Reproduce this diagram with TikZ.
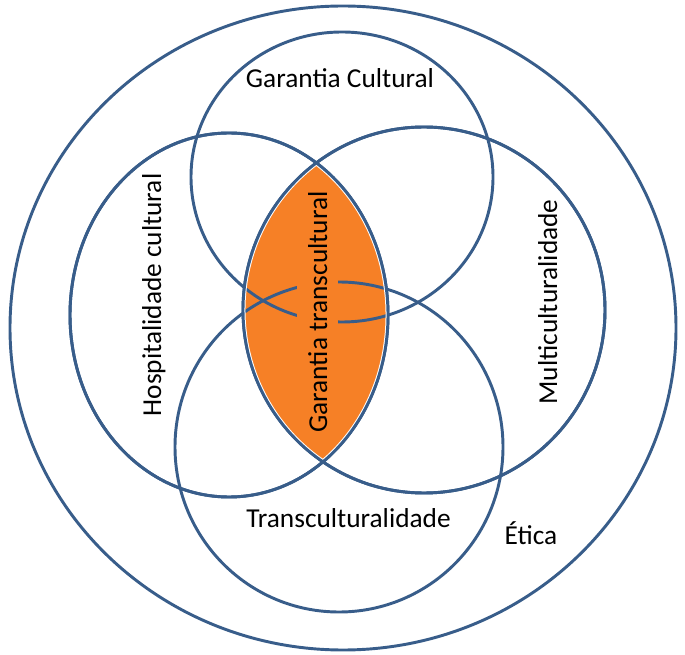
\documentclass[tikz,border=0pt]{standalone}
\usepackage{fontspec}
\setmainfont{Carlito}
\usepackage{tikz}
\definecolor{ringblue}{RGB}{56,93,138}
\definecolor{lensorange}{RGB}{246,128,38}

\begin{document}
\begin{tikzpicture}[x=0.75pt, y=-0.75pt]
    \tikzstyle{ring} = [draw=ringblue, line width=2.2pt]
    \tikzstyle{venntext} = [font=\fontsize{20.5}{24}\selectfont, inner sep=0pt,
	anchor=base]

	\useasboundingbox (0,0) rectangle (685,655);

	\coordinate (Outer) at (343,328);
	\coordinate (Top) at (342,177);
	\coordinate (Bottom) at (339,447);
	\coordinate (Left) at (229,315);
	\coordinate (Right) at (424,310);

	\draw[ring] (Outer) ellipse [x radius=333, y radius=322];
	\draw[ring] (Top) ellipse [x radius=151, y radius=145];
	\draw[ring] (Bottom) ellipse [x radius=164, y radius=165];
	\draw[ring] (Left) ellipse [x radius=159, y radius=182];
	\draw[ring] (Right) ellipse [x radius=181, y radius=183];

	\begin{scope}
		\clip (Left) ellipse [x radius=159, y radius=182];
		\clip (Right) ellipse [x radius=181, y radius=183];
		\fill[lensorange] (0,0) rectangle (685,655);
		\draw[ring] (Top) ellipse [x radius=151, y radius=145];
		\draw[ring] (Bottom) ellipse [x radius=164, y radius=165];
		\node[venntext, rotate=90, fill=lensorange, inner ysep=8pt]
			(GT) at (327,312) {Garantia transcultural};
		\draw[white, line width=3.7pt] (Left) ellipse [x radius=159, y radius=182];
		\draw[white, line width=3.7pt] (Right) ellipse [x radius=181, y radius=183];
	\end{scope}

	\draw[ring] (Left) ellipse [x radius=159, y radius=182];
	\draw[ring] (Right) ellipse [x radius=181, y radius=183];

	\node[venntext] (GC) at (340,88) {Garantia Cultural};
	\node[venntext] (TC) at (348.5,527) {Transculturalidade};
	\node[venntext] (ET) at (531,544) {Ética};
	\node[venntext, rotate=90] (HC) at (161,295) {Hospitalidade cultural};
	\node[venntext, rotate=90] (MC) at (557,302) {Multiculturalidade};
\end{tikzpicture}
\end{document}
